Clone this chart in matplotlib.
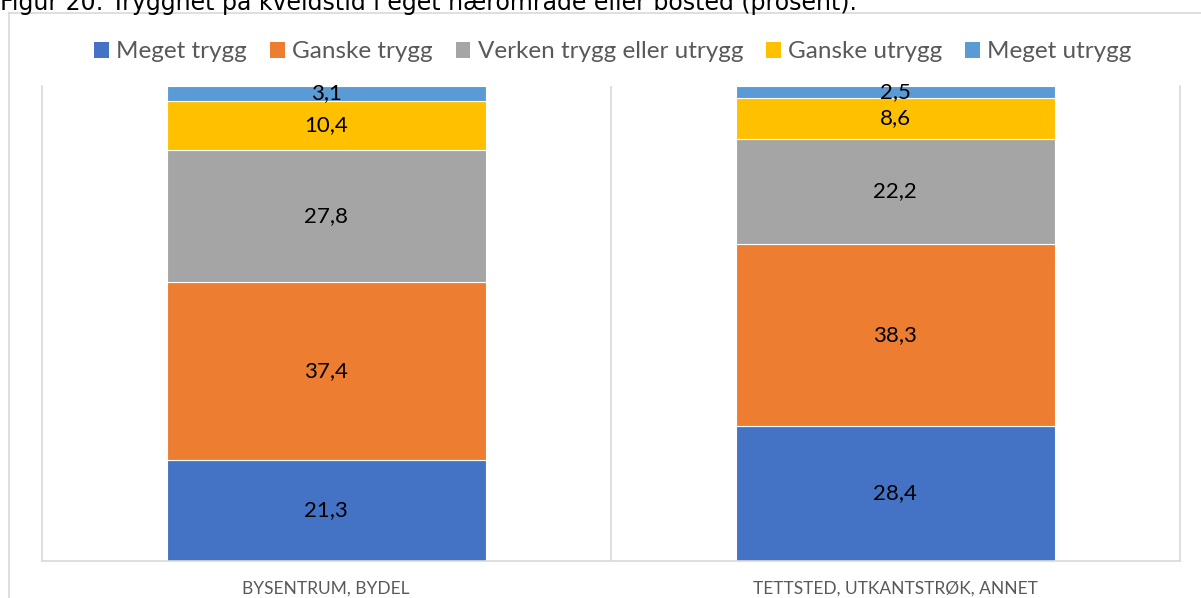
import matplotlib
matplotlib.use("Agg")
import matplotlib.pyplot as plt
from matplotlib.lines import Line2D
from matplotlib.patches import Patch
import numpy as np

# data (percent)
categories = ["BYSENTRUM, BYDEL", "TETTSTED, UTKANTSTRØK, ANNET"]
series_names = ["Meget trygg", "Ganske trygg", "Verken trygg eller utrygg",
                "Ganske utrygg", "Meget utrygg"]
meget_trygg = [21.3, 28.4]
ganske_trygg = [37.4, 38.3]
verken = [27.8, 22.2]
ganske_utrygg = [10.4, 8.6]
meget_utrygg = [3.1, 2.5]

colors = ["#4472C4", "#ED7D31", "#A5A5A5", "#FFC000", "#5B9BD5"]
title = "Figur 20: Trygghet på kveldstid i eget nærområde eller bosted (prosent)."

W, H = 1201, 598
fig = plt.figure(figsize=(W / 100, H / 100), dpi=100)
fig.patch.set_facecolor("white")

# outer chart border (cut off on right/bottom like the source)
fig.add_artist(Line2D([9 / W, 1.01], [1 - 13 / H] * 2, color="#d9d9d9", lw=1.2,
                      transform=fig.transFigure))
fig.add_artist(Line2D([9 / W] * 2, [1 - 13 / H, -0.01], color="#d9d9d9", lw=1.2,
                      transform=fig.transFigure))

fig.text(0, 1 - 10 / H, title, fontsize=17, family="DejaVu Sans",
         color="black", va="baseline", ha="left")

left, right, top, bottom = 41.5, 1180, 86, 561
ax = fig.add_axes([left / W, 1 - bottom / H, (right - left) / W, (bottom - top) / H])

x = np.arange(len(categories))
width = 0.56
base = np.zeros(len(categories))
for name, vals, c in zip(series_names,
                         [meget_trygg, ganske_trygg, verken, ganske_utrygg, meget_utrygg],
                         colors):
    vals = np.array(vals)
    ax.bar(x, vals, width, bottom=base, color=c, label=name,
           edgecolor="white", linewidth=0.8)
    for xi, b, v in zip(x, base, vals):
        ax.text(xi, b + v / 2, f"{v:.1f}".replace(".", ","), ha="center",
                va="center", fontsize=16, family="Lato", color="black")
    base += vals

ax.set_xlim(-0.5, 1.5)
ax.set_ylim(0, 100)
ax.set_yticks([])
ax.set_xticks(x)
ax.set_xticklabels(categories, fontsize=12.5, family="Lato", color="#595959")
ax.tick_params(axis="x", length=0, pad=14)
ax.axvline(0.5, color="#d9d9d9", lw=1.2)
for s in ["left", "right", "bottom"]:
    ax.spines[s].set_color("#d9d9d9")
    ax.spines[s].set_linewidth(1.2)
ax.spines["top"].set_visible(False)

handles = [Patch(facecolor=c, edgecolor="none") for c in colors]
fig.legend(handles, series_names, loc="center", bbox_to_anchor=(613 / W, 1 - 52 / H),
           ncol=5, frameon=False, handlelength=0.6, handleheight=0.6,
           handletextpad=0.3, columnspacing=0.95, labelcolor="#595959",
           borderpad=0, prop={"family": "Lato", "size": 17.5})

fig.savefig("out.png", dpi=100)
